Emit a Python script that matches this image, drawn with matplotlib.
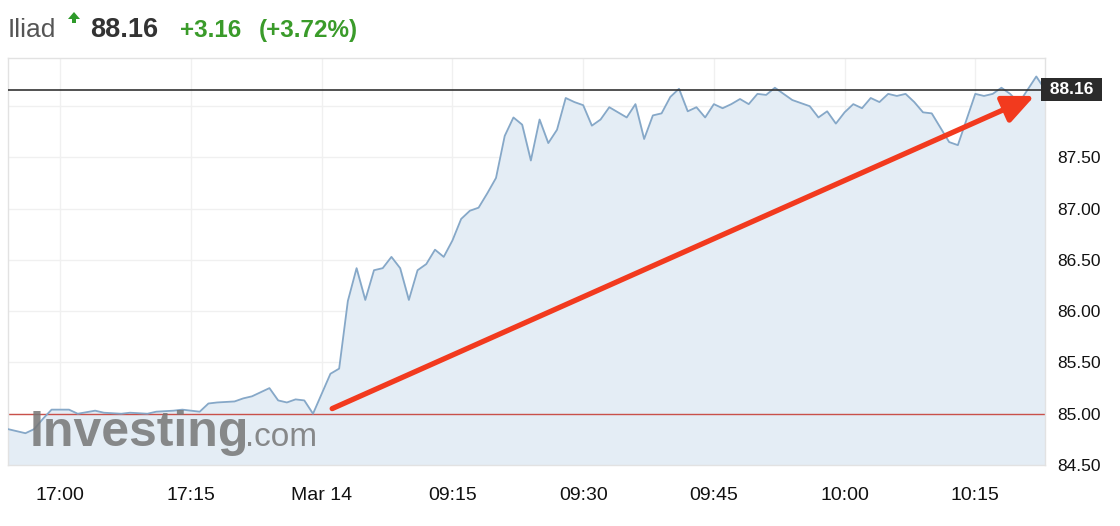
import matplotlib
matplotlib.use("Agg")
import matplotlib.pyplot as plt
import matplotlib.transforms as mtransforms
from matplotlib.patches import Polygon

plt.rcParams['font.family'] = ['Liberation Sans', 'DejaVu Sans']

# Datos: cierre del 13 de marzo (hora -> precio)
s1_times = ["16:54", "16:56", "16:57", "16:58", "16:59", "17:01", "17:02", "17:04",
            "17:05", "17:07", "17:08", "17:10", "17:11", "17:13", "17:14", "17:16",
            "17:17", "17:18", "17:20", "17:21", "17:22", "17:24", "17:25", "17:26",
            "17:27", "17:28", "17:29"]
s1_prices = [84.85, 84.81, 84.85, 84.95, 85.04, 85.04, 85.00, 85.03,
             85.01, 85.00, 85.01, 85.00, 85.02, 85.03, 85.04, 85.02,
             85.10, 85.11, 85.12, 85.15, 85.17, 85.25, 85.13, 85.11,
             85.14, 85.13, 85.00]

# Sesion del 14 de marzo
s2_times = ["09:01", "09:02", "09:03", "09:04", "09:05", "09:06", "09:07", "09:08", "09:09", "09:10",
            "09:11", "09:12", "09:13", "09:14", "09:15", "09:16", "09:17", "09:18", "09:19", "09:20",
            "09:21", "09:22", "09:23", "09:24", "09:25", "09:26", "09:27", "09:28", "09:29", "09:30",
            "09:31", "09:32", "09:33", "09:34", "09:35", "09:36", "09:37", "09:38", "09:39", "09:40",
            "09:41", "09:42", "09:43", "09:44", "09:45", "09:46", "09:47", "09:48", "09:49", "09:50",
            "09:51", "09:52", "09:53", "09:54", "09:55", "09:56", "09:57", "09:58", "09:59", "10:00",
            "10:01", "10:02", "10:03", "10:04", "10:05", "10:06", "10:07", "10:08", "10:09", "10:10",
            "10:11", "10:12", "10:13", "10:15", "10:16", "10:17", "10:18", "10:19", "10:20", "10:22",
            "10:23"]
s2_prices = [85.39, 85.44, 86.10, 86.42, 86.11, 86.40, 86.42, 86.53, 86.42, 86.11,
             86.40, 86.46, 86.60, 86.53, 86.69, 86.90, 86.98, 87.01, 87.15, 87.30,
             87.71, 87.89, 87.82, 87.47, 87.87, 87.64, 87.77, 88.08, 88.04, 88.01,
             87.81, 87.87, 87.99, 87.94, 87.89, 88.02, 87.68, 87.91, 87.93, 88.09,
             88.17, 87.95, 87.99, 87.89, 88.02, 87.98, 88.02, 88.07, 88.02, 88.12,
             88.11, 88.18, 88.12, 88.06, 88.03, 88.00, 87.89, 87.95, 87.83, 87.94,
             88.02, 87.98, 88.08, 88.04, 88.12, 88.10, 88.12, 88.04, 87.94, 87.93,
             87.79, 87.65, 87.62, 88.12, 88.10, 88.12, 88.18, 88.12, 88.03, 88.29,
             88.16]

prev_close = 85.00
last_price = 88.16
change = "+3.16"
change_pct = "(+3.72%)"

x_ticks = [0, 15, 30, 45, 60, 75, 90, 105]
x_labels = ["17:00", "17:15", "Mar 14", "09:15", "09:30", "09:45", "10:00", "10:15"]
y_ticks = [84.5, 85.0, 85.5, 86.0, 86.5, 87.0, 87.5, 88.0]


def idx(t, day):
    h, m = map(int, t.split(":"))
    if day == 13:
        return h * 60 + m - 17 * 60
    return 30 + h * 60 + m - 9 * 60


xs = [idx(t, 13) for t in s1_times] + [idx(t, 14) for t in s2_times]
ys = s1_prices + s2_prices

fig = plt.figure(figsize=(11.2, 5.26), dpi=100)
ax = fig.add_axes([8 / 1120, 61 / 526, 1037 / 1120, 407 / 526])

ymin, ymax = 84.5, 88.47
ax.set_xlim(-6, 113)
ax.set_ylim(ymin, ymax)

ax.fill_between(xs, ys, ymin, color="#e4edf5", zorder=1)
ax.plot(xs, ys, color="#86a8c8", linewidth=1.3, zorder=3)

ax.axhline(prev_close, color="#c9504a", linewidth=1.0, zorder=2)
ax.axhline(last_price, color="#333333", linewidth=1.2, zorder=4)

ax.set_xticks(x_ticks)
ax.set_xticklabels(x_labels)
ax.set_yticks(y_ticks)
ax.set_yticklabels([f"{v:.2f}" if v < 88 else "" for v in y_ticks])
ax.yaxis.tick_right()
ax.tick_params(axis="x", length=0, pad=16, labelsize=14, colors="#111111")
ax.tick_params(axis="y", length=0, pad=9, labelsize=12.5, colors="#111111")
ax.grid(color="#f0f0f0", linewidth=1.0, zorder=0)
ax.set_axisbelow(True)
for s in ax.spines.values():
    s.set_color("#e2e2e2")
    s.set_linewidth(1.0)

# etiqueta del ultimo precio
trans = mtransforms.blended_transform_factory(ax.transAxes, ax.transData)
ax.text(1.0, last_price, f" {last_price:.2f} ", transform=trans, ha="left", va="center",
        color="white", fontsize=12.5, fontweight="bold", zorder=6, clip_on=False,
        bbox=dict(boxstyle="square,pad=0.22", fc="#2b2b2b", ec="none"))

# flecha roja
ax.annotate("", xy=(xs[-1] - 1.2, last_price - 0.06), xytext=(xs[len(s1_times)] + 0.2, prev_close + 0.05),
            arrowprops=dict(arrowstyle="-|>,head_length=1.9,head_width=0.85",
                            color="#f23a1e", lw=3.8, shrinkA=0, shrinkB=0),
            zorder=7)

# marca de agua
fig.text(30 / 1120, 1 - 446 / 526, "Investing", fontsize=36, fontweight="bold",
         color="#767676", alpha=0.85, zorder=8)
fig.text(245 / 1120, 1 - 446 / 526, ".com", fontsize=24, color="#767676",
         alpha=0.85, zorder=8)

# encabezado
base = 1 - 37 / 526
fig.text(8 / 1120, base, "Iliad", fontsize=19, color="#555555")
# flecha verde hacia arriba
up = [(68, 19), (74, 12), (80, 19), (76, 19), (76, 23), (72, 23), (72, 19)]
fig.patches.append(Polygon([(px / 1120, 1 - py / 526) for px, py in up], closed=True,
                           transform=fig.transFigure, figure=fig, fc="#2e9a2a", ec="none"))
fig.text(90 / 1120, base, f"{last_price:.2f}", fontsize=19.5, fontweight="bold", color="#333333")
fig.text(180 / 1120, base, change, fontsize=17.5, fontweight="bold", color="#3a9b2a")
fig.text(259 / 1120, base, change_pct, fontsize=17.5, fontweight="bold", color="#3a9b2a")

fig.savefig("out.png", dpi=100)
